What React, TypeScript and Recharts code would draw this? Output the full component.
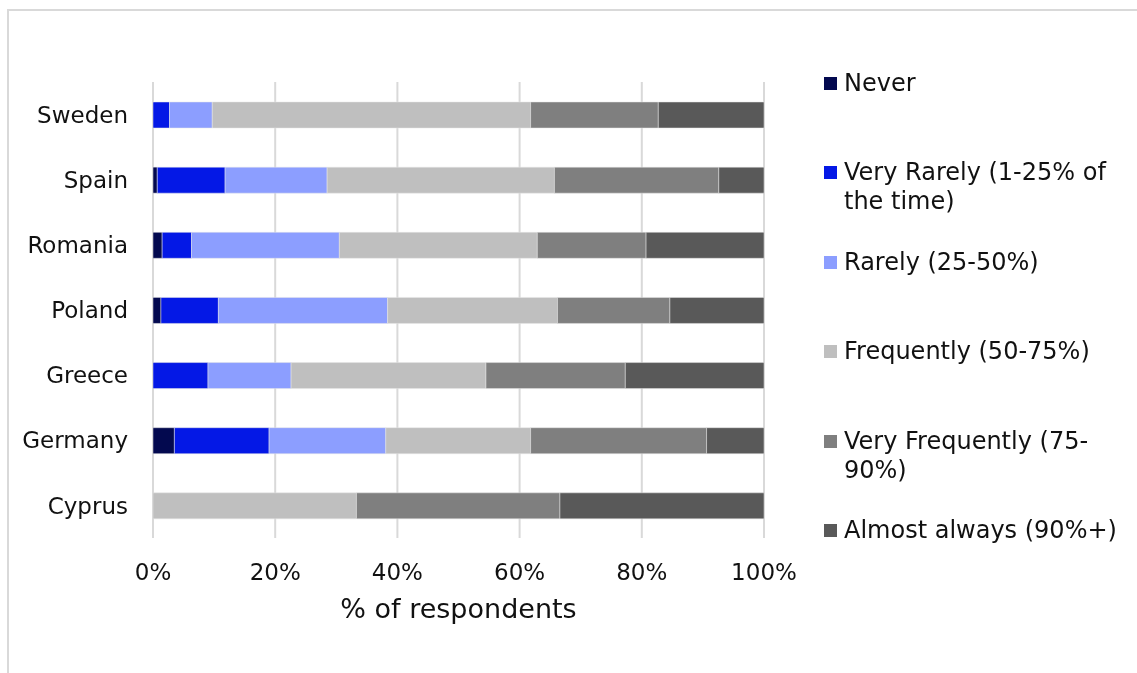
import { BarChart, Bar, XAxis, YAxis, CartesianGrid } from "recharts";

const countries = ["Sweden", "Spain", "Romania", "Poland", "Greece", "Germany", "Cyprus"];
const never = [0, 0.7, 1.5, 1.3, 0, 3.5, 0];
const veryRarely = [2.7, 11.1, 4.8, 9.4, 9.0, 15.5, 0];
const rarely = [7.0, 16.7, 24.2, 27.7, 13.6, 19.1, 0];
const frequently = [52.1, 37.2, 32.4, 27.8, 31.9, 23.7, 33.3];
const veryFrequently = [20.9, 26.9, 17.8, 18.4, 22.8, 28.8, 33.3];
const almostAlways = [17.3, 7.4, 19.3, 15.4, 22.7, 9.4, 33.4];
const xTicks = [0, 20, 40, 60, 80, 100];

const series = [
  { key: "never", name: "Never", color: "#03094f", values: never },
  { key: "veryRarely", name: "Very Rarely (1-25% of the time)", color: "#0418e6", values: veryRarely },
  { key: "rarely", name: "Rarely (25-50%)", color: "#8c9eff", values: rarely },
  { key: "frequently", name: "Frequently (50-75%)", color: "#bfbfbf", values: frequently },
  { key: "veryFrequently", name: "Very Frequently (75-90%)", color: "#7f7f7f", values: veryFrequently },
  { key: "almostAlways", name: "Almost always (90%+)", color: "#595959", values: almostAlways },
];

const data = countries.map((country, i) => {
  const row: Record<string, string | number> = { country };
  series.forEach((s) => {
    row[s.key] = s.values[i];
  });
  return row;
});

const FONT = "'DejaVu Sans', Verdana, sans-serif";

// legend drawn beside the chart so it doesn't eat into the plot area
function SideLegend() {
  return (
    <div style={{ position: "absolute", left: 816, top: 0, width: 305, height: 600, fontFamily: FONT }}>
      {series.map((s, i) => {
        const center = 75 + 89.5 * i;
        return (
          <div key={s.key}>
            <div
              style={{
                position: "absolute",
                left: 0,
                top: center - 6.5,
                width: 13,
                height: 13,
                background: s.color,
              }}
            />
            <div
              style={{
                position: "absolute",
                left: 20,
                top: center - 14.5,
                width: 285,
                fontSize: 24,
                lineHeight: "29px",
                color: "#111",
              }}
            >
              {s.name}
            </div>
          </div>
        );
      })}
    </div>
  );
}

const frameLine = { position: "fixed" as const, background: "#d9d9d9" };

export default function App() {
  return (
    <div style={{ position: "relative", width: 1121, height: 657 }}>
      {/* chart frame: only the top and left edges fall inside the window */}
      <div style={{ ...frameLine, left: 7, top: 9, width: 1130, height: 2 }} />
      <div style={{ ...frameLine, left: 7, top: 9, width: 2, height: 664 }} />
      <div style={{ position: "absolute", left: 0, top: 0 }}>
        <BarChart
          width={1121}
          height={657}
          data={data}
          layout="vertical"
          barSize={26}
          margin={{ top: 74, right: 365, left: 0, bottom: 0 }}
        >
          <CartesianGrid horizontal={false} stroke="#d9d9d9" strokeWidth={2} />
          <XAxis
            type="number"
            domain={[0, 100]}
            ticks={xTicks}
            allowDataOverflow
            tickFormatter={(v) => `${v}%`}
            axisLine={false}
            tickLine={false}
            tickSize={0}
            tickMargin={26}
            height={127}
            tick={{ fill: "#111", fontSize: 23, fontFamily: FONT }}
            label={{
              value: "% of respondents",
              position: "insideBottom",
              offset: 47,
              fill: "#111",
              fontSize: 27,
              fontFamily: FONT,
            }}
          />
          <YAxis
            type="category"
            dataKey="country"
            width={145}
            axisLine={false}
            tickLine={false}
            tickSize={0}
            tickMargin={25}
            tick={{ fill: "#111", fontSize: 23, fontFamily: FONT }}
          />
          {series.map((s) => (
            <Bar
              key={s.key}
              dataKey={s.key}
              name={s.name}
              stackId="a"
              fill={s.color}
              stroke="#e6e6e6"
              strokeWidth={0.5}
              isAnimationActive={false}
            />
          ))}
        </BarChart>
      </div>
      <SideLegend />
    </div>
  );
}
